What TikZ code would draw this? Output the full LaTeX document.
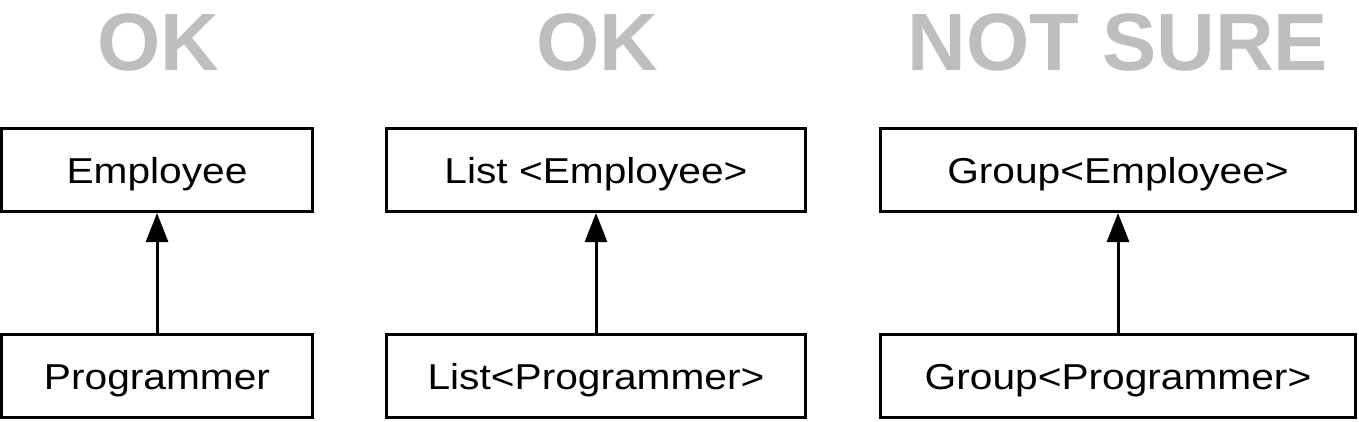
\documentclass[tikz,border=0pt]{standalone}
\usepackage{fontspec}
\setmainfont{Liberation Sans}
\newfontfamily\boxfont[FakeStretch=1.13]{Liberation Sans}
\usetikzlibrary{positioning,arrows.meta}
\definecolor{titlegray}{RGB}{190,190,190}

\begin{document}
\begin{tikzpicture}[x=0.75pt,y=-0.75pt,
					typebox/.style={draw,line width=2.25pt,minimum height=62.25pt,
						inner sep=0pt,text height=19.5pt,text depth=0pt,
						font=\boxfont\fontsize{27}{27}\selectfont},
					verdict/.style={anchor=base,text=titlegray,
						font=\bfseries\fontsize{61}{61}\selectfont},
					node distance=90pt]
	\useasboundingbox (0,0) rectangle (1359,421);
	% verdicts
	\node[verdict] (okA) at (158,70) {OK};
	\node[verdict] (okB) at (597,70) {OK};
	\node[verdict] (unsure) at (1118,70) {NOT SURE};
	% types
	\node[typebox,minimum width=233.25pt] (emp) at (157,170) {Employee};
	\node[typebox,minimum width=233.25pt,below=of emp] (prog) {Programmer};
	\node[typebox,minimum width=314.25pt] (listemp) at (596,170) {List <Employee>};
	\node[typebox,minimum width=314.25pt,below=of listemp] (listprog) {List<Programmer>};
	\node[typebox,minimum width=356.25pt] (grpemp) at (1118,170) {Group<Employee>};
	\node[typebox,minimum width=356.25pt,below=of grpemp] (grpprog) {Group<Programmer>};
	% subtype arrows
	\foreach \sub/\super in {prog/emp,listprog/listemp,grpprog/grpemp}
		\draw[line width=2.25pt,-{Triangle[length=21.75pt,width=16.5pt]}] (\sub) -- (\super);
\end{tikzpicture}
\end{document}
